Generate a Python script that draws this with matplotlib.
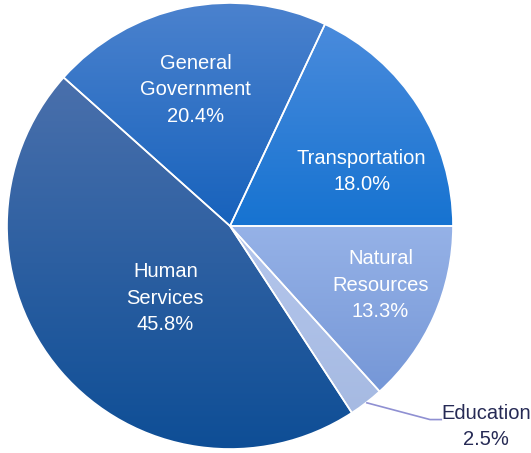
import numpy as np
import matplotlib.pyplot as plt
from matplotlib.colors import LinearSegmentedColormap

# Data (clockwise from 3 o'clock)
categories = ['Natural\nResources', 'Education', 'Human\nServices', 'General\nGovernment', 'Transportation']
shares = [13.3, 2.5, 45.8, 20.4, 18.0]

# gradient colours per slice (top, bottom)
grad_top = ['#96B2E7', '#B4C6EC', '#4A70AC', '#4B82CE', '#4A8BDC']
grad_bot = ['#7597D7', '#A6BAE2', '#0E4E96', '#1762BC', '#1673D1']

# label centres in data units (radius = 1)
label_xy = [(0.675, -0.265), None, (-0.29, -0.325), (-0.155, 0.61), (0.59, 0.245)]
edu_label_xy = (1.148, -0.90)

W, H = 531, 453
cx, cy, R = 230, 226, 223

fonts = ['Liberation Sans Narrow', 'Liberation Sans', 'DejaVu Sans']

fig = plt.figure(figsize=(W / 100, H / 100), dpi=100)
ax = fig.add_axes([0, 0, 1, 1])
ax.set_aspect('equal')
ax.axis('off')

wedges, _ = ax.pie(shares, startangle=0, counterclock=False, radius=1,
                   wedgeprops=dict(edgecolor='white', linewidth=1.2))

for w, top, bot in zip(wedges, grad_top, grad_bot):
    w.set_facecolor('none')
    w.set_zorder(3)
    ext = w.get_path().get_extents()
    cmap = LinearSegmentedColormap.from_list('g', [bot, top])
    grad = np.linspace(0, 1, 256).reshape(-1, 1)
    im = ax.imshow(grad, cmap=cmap, origin='lower', aspect='auto',
                   extent=[ext.x0, ext.x1, ext.y0, ext.y1], zorder=2,
                   interpolation='bilinear')
    im.set_clip_path(w)

ax.set_xlim(-cx / R, (W - cx) / R)
ax.set_ylim(-(H - cy) / R, cy / R)

for cat, val, pos in zip(categories, shares, label_xy):
    if pos is None:
        continue
    ax.text(pos[0], pos[1], f'{cat}\n{val:.1f}%', ha='center', va='center',
            color='white', fontsize=14.5, linespacing=1.5, zorder=5, family=fonts)

# Education label with leader line
edu = wedges[1]
mid = np.deg2rad((edu.theta1 + edu.theta2) / 2)
x0, y0 = np.cos(mid), np.sin(mid)
ax.plot([x0, 0.897, 0.951], [y0, -0.868, -0.868], color='#8F90D2', lw=1.2, zorder=4,
        solid_capstyle='butt')
ax.text(edu_label_xy[0], edu_label_xy[1], f'Education\n{shares[1]:.1f}%', ha='center', va='center',
        color='#262A55', fontsize=14.5, linespacing=1.5, zorder=5, family=fonts)

fig.savefig('out.png', dpi=100)
